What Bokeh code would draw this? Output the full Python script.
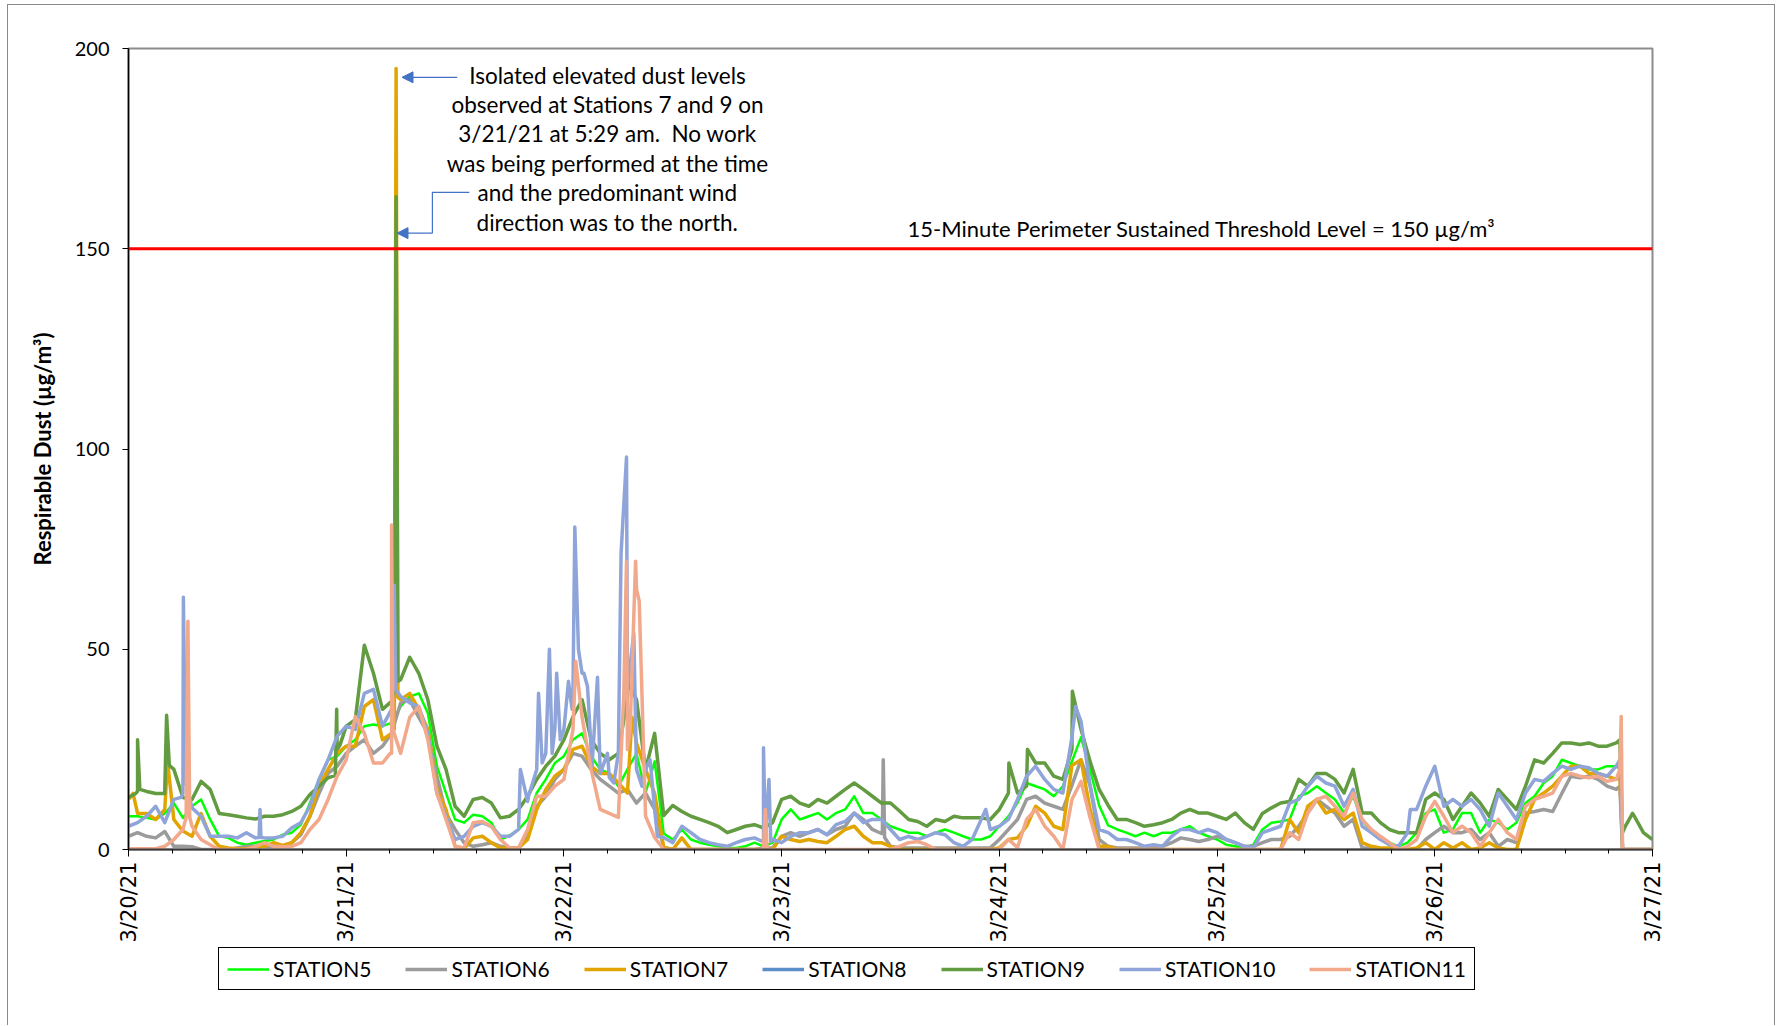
import math
from bokeh.plotting import figure
from bokeh.layouts import column
from bokeh.models import (Range1d, FixedTicker, Span, Label, Arrow, NormalHead,
                          Legend, LegendItem)
from bokeh.embed import file_html
from bokeh.resources import INLINE

# ---------------- data (hours from 3/20/21 00:00) ----------------
hours = list(range(169))
tick_hours = [0, 24, 48, 72, 96, 120, 144, 168]
date_labels = ["3/20/21", "3/21/21", "3/22/21", "3/23/21", "3/24/21", "3/25/21", "3/26/21", "3/27/21"]
minor_hours = [4.8 * k for k in range(36)]
y_ticks = [0, 50, 100, 150, 200]
threshold = 150

station5 = [8.3, 8.3, 7.9, 7.5, 9, 11.6, 7.9, 10.8, 12.5, 7.5, 3.3, 2.9,
            1.7, 1.2, 1.7, 2.1, 2.5, 3.7, 4.2, 6.2, 11.6, 17.5, 22.4, 23.3,
            25.8, 27.4, 30.8, 31.2, 30.8, 31.6, 35.7, 38.2, 39, 34, 20.8, 14.1,
            7.5, 6.7, 8.7, 8.3, 6.7, 2.5, 3.5, 5, 7.5, 14.1, 17.5, 21.6,
            23.3, 27.4, 29, 23.3, 20, 19, 15.8, 20, 24, 14.1, 22, 4,
            2.5, 5, 2.5, 1.7, 1.2, 0.8, 0.4, 0.4, 0.8, 1.7, 0.8, 1.7,
            7.5, 10, 7.5, 8.3, 9.1, 7.5, 9.1, 10, 13.3, 9.1, 9.1, 7.5,
            5.8, 5, 4.2, 4.2, 3.3, 4.2, 5, 4.2, 3.3, 2.5, 2.5, 3.3,
            5.8, 8.3, 11.6, 16.6, 15.8, 15, 13.3, 15.8, 22, 28, 20, 11,
            6, 5, 4.2, 3.3, 4.2, 3.3, 4.2, 4.2, 5, 5.8, 4.2, 3.3,
            2.5, 1.2, 0.8, 0.4, 1.2, 5, 6.7, 7, 7.5, 13.3, 14.1, 15.8,
            14.1, 12.5, 9.1, 13.3, 7.5, 4.2, 2.5, 1.7, 0.8, 1.7, 4.2, 9.1,
            10, 4.2, 5, 9.1, 9.1, 4.2, 7.5, 6.7, 5, 6.7, 11.6, 13.3,
            16.6, 18.3, 22.4, 21.6, 20.8, 20, 20, 20.8, 20.8, 0, 0, 0,
            0]
station5_extra_t = [164.4, 164.7]
station5_extra_v = [20, 0]

station6 = [3.3, 4.2, 3.3, 2.9, 4.5, 0.8, 0.8, 0.7, 0, 0, 0, 0,
            0.4, 0.8, 0.8, 0.8, 0.8, 0.8, 1.7, 3.7, 8.3, 14, 19, 20.8,
            24, 25.8, 27.4, 24, 25.8, 29, 36.6, 37.4, 33, 29, 18.3, 9,
            5, 1.7, 0.8, 1.2, 1.7, 0.8, 0.4, 0.4, 3.3, 10.8, 13.3, 17.5,
            20, 24, 23.3, 20, 17.5, 15.8, 14.1, 15, 11.6, 14.1, 10, 0.5,
            0, 0, 0, 0, 0, 0, 0, 0, 0, 0, 0.4, 0.4,
            3.3, 4.2, 3.3, 4.2, 5, 3.7, 5, 5.8, 9.1, 7.5, 5, 4,
            0.8, 0.4, 0.4, 0.4, 0.4, 0.4, 0.4, 0.4, 0.4, 0.4, 0.4, 0.4,
            2.5, 5, 7.5, 12.5, 13.3, 11.6, 10.8, 10, 16, 22.4, 16, 2.5,
            0.8, 0.4, 0.4, 0.4, 0.4, 0.8, 0.8, 1.7, 2.9, 2.5, 2, 2.5,
            3.3, 2.5, 1.7, 0.8, 0.8, 1.7, 2.5, 2.5, 3.3, 5.8, 9.1, 12.5,
            10.8, 9.1, 5.8, 7.5, 0.4, 0.4, 0, 0, 0, 0, 0, 2.5,
            4.2, 5.8, 4.2, 4.2, 5, 2.5, 4.2, 0.8, 2.5, 1.7, 9.1, 9.5,
            10, 9.5, 14, 18.3, 17.9, 18.3, 17.5, 15.8, 15, 0, 0, 0,
            0]
station6_extra_t = [83.1, 83.2, 83.35, 164.4, 164.7]
station6_extra_v = [4, 22.4, 3, 15.8, 0]

station7 = [12.5, 9, 9, 7.5, 10, 7.5, 4.6, 3.3, 9, 3.3, 0.8, 0.4,
            0.2, 0.2, 0.7, 0.8, 1.7, 1, 1.7, 4.2, 8.3, 15.8, 20, 24,
            25.8, 25.8, 35.7, 37.4, 27.4, 29, 37.4, 39, 35, 30, 15, 10,
            0.8, 0.2, 2.9, 3.3, 1.7, 0.4, 0.4, 0.4, 2.5, 10, 15, 18.3,
            20, 25, 25.8, 20.8, 19, 19, 16.6, 14.1, 26.6, 20, 14, 0.5,
            0, 2.9, 0, 0, 0, 0, 0, 0, 0, 0, 0, 0,
            3.3, 2.5, 2, 2.5, 2, 1.7, 3.3, 5, 5.8, 3.3, 1.7, 1.7,
            0.8, 0, 0, 0, 0, 0, 0, 0, 0, 0, 0, 0,
            0.4, 2.5, 2.9, 5.8, 10.8, 9.1, 5.8, 5, 21, 22.4, 10, 0.8,
            0.8, 0, 0, 0, 0, 0, 0, 0, 0, 0, 0, 0,
            0, 0, 0, 0, 0, 0, 0, 0, 7.5, 4.2, 10.8, 12.5,
            9.1, 10, 7.5, 9.1, 1.7, 0.8, 0.4, 0.4, 0, 0, 0.4, 1.7,
            0, 1.7, 0.4, 1.7, 0, 0.4, 1.7, 0.4, 0, 0, 7.5, 12.5,
            14.1, 15.8, 18.3, 20.8, 20.8, 19, 19, 18.3, 17.5, 0, 0, 0,
            0]
station7_extra_t = [0.5, 4.3, 29.3, 29.5, 29.7, 55.5, 164.4, 164.7]
station7_extra_v = [14, 22, 30, 195, 38, 33, 18.3, 0]

# STATION8 shows in the legend only; no line is visible in the chart
station8 = []
station8_t = []

station9 = [13, 14.5, 14.5, 14, 14, 20, 13, 12.5, 17, 15, 9, 8.7,
            8.3, 7.9, 7.6, 8.3, 8.3, 8.7, 9.5, 10.8, 13.7, 15.8, 17.9, 25,
            30.8, 32.4, 51, 44, 35, 37, 42.4, 48, 44, 37.4, 25.8, 20,
            10.8, 8.3, 12.5, 13, 11.6, 7.9, 8.3, 10, 13.3, 17.5, 20.8, 23.3,
            27.4, 33.2, 37.4, 27.4, 24, 22.4, 24, 38, 37.4, 20, 29, 8.5,
            11, 9.5, 8.3, 7.5, 6.7, 5.8, 4.2, 5, 5.8, 6.2, 5.4, 6.7,
            12.5, 13.3, 11.6, 10.8, 12.5, 11.6, 13.3, 15, 16.6, 15, 13.3, 11.6,
            11.6, 9.6, 7.5, 7, 5.8, 7.5, 7, 8.3, 7.9, 7.9, 7.9, 7.5,
            10, 14.1, 14.1, 15.8, 21.6, 21.6, 18.3, 17.5, 25, 30, 22, 15,
            11, 7.5, 7.5, 6.7, 5.8, 6.2, 6.7, 7.5, 9.1, 10, 9.1, 9.1,
            8.3, 7.5, 9.1, 6.7, 5, 9, 10.4, 11.6, 12, 17.5, 15.8, 19,
            19, 17.5, 14.1, 20, 9.1, 9.1, 6.7, 5, 4.2, 4.2, 4.2, 12.5,
            14.1, 12.5, 7.5, 10.8, 14.1, 11.6, 8.3, 15, 12.5, 10, 15.8, 22.4,
            21.6, 24, 26.6, 26.6, 26.2, 26.6, 25.8, 25.8, 26.6, 5.8, 8.3, 4.2,
            2.5]
station9_extra_t = [0.8, 1.0, 1.25, 4.0, 4.2, 4.5, 22.8, 22.95, 23.3, 29.3, 29.5, 29.7,
                    55.1, 97.05, 99.1, 104.05, 164.4, 164.7, 165.8]
station9_extra_v = [14, 27.4, 15, 15, 33.5, 21, 18.5, 35, 26, 40, 163, 42,
                    42, 21.6, 25, 39.5, 27.4, 4.2, 9]

station10 = [5.8, 6.7, 8.3, 10.8, 6.7, 12.5, 14, 10.4, 8.3, 3.3, 3.3, 3.3,
             2.9, 4.2, 2.9, 2.9, 2.9, 3.3, 5.4, 6.7, 10.8, 17.5, 22.4, 28.3,
             30.8, 30, 39, 40, 30.8, 35, 38.2, 36.6, 35.7, 29, 14, 8.3,
             2.5, 3.3, 5.8, 6.7, 5.8, 3.3, 3.3, 5, 12, 20, 24, 30,
             30, 40, 44, 25, 19, 18, 24, 40, 20, 20, 10, 3,
             1.7, 5.8, 4.2, 2.5, 1.7, 1.2, 0.8, 1.7, 2.5, 2.9, 1.7, 2.5,
             1.7, 3.3, 4.2, 4.2, 5, 3.7, 6.2, 7, 9.1, 6.7, 7.5, 7.5,
             5, 2.5, 3.3, 2.5, 3.3, 4.2, 3.7, 1.7, 0.8, 2.5, 7.5, 5,
             5.8, 7.5, 12.5, 18.3, 20.8, 17.5, 15, 14.1, 28, 32, 16, 5,
             4.2, 2.5, 2.5, 1.7, 0.8, 1.2, 0.8, 3.3, 5, 5, 4.2, 5,
             4.2, 2.5, 1.7, 0.8, 0.4, 4.2, 5, 5.8, 11.6, 12.5, 15.8, 18.3,
             16.6, 15.8, 10.8, 15, 5.8, 4.2, 2.5, 1.2, 0.8, 4.2, 10, 15.8,
             20.8, 10.8, 12.5, 10.8, 12.5, 10, 5.8, 14.1, 10.8, 7.5, 14.1, 17.5,
             17, 19, 20.8, 20, 20.8, 20.4, 19, 18.3, 20.8, 0, 0, 0,
             0]
station10_extra_t = [5.8, 6.05, 6.3, 14.4, 14.5, 14.6, 29.1, 29.3, 29.45,
                     43.2, 44.1, 45.2, 45.6, 46.4, 46.7, 47.2, 47.6, 48.5, 48.9,
                     49.2, 49.6, 50.2, 50.6, 51.1, 51.7, 52.0, 52.8, 53.5, 54.3,
                     54.9, 55.7, 56.6, 57.5, 58.3, 69.9, 70.0, 70.2, 70.6, 70.8,
                     94.5, 104.4, 141.3, 164.4, 164.7]
station10_extra_v = [13, 63, 17, 3, 10, 3, 40, 66, 40,
                     20, 13.3, 39, 21.6, 50, 24, 44, 27.4, 42, 35,
                     80.5, 50, 44, 40.7, 20.8, 43, 19, 24, 16.6, 74,
                     98, 54, 15.8, 22.4, 3.3, 2, 25.4, 3, 17.5, 2,
                     10, 35.7, 10, 22.4, 0]

station11 = [0.2, 0.2, 0.2, 0.2, 0.8, 2.5, 5, 5.8, 2.5, 1.2, 0, 0,
             0, 0, 0.8, 1.7, 0.8, 0.7, 0.8, 1.7, 5, 7.5, 12.5, 18.3,
             22.4, 33.2, 29, 21.6, 21.6, 24, 24, 33, 35.7, 27.4, 14, 7.5,
             0.8, 0.4, 6.7, 7, 5.8, 2.5, 0.4, 0.4, 5, 13.3, 13.3, 15.8,
             17.5, 30, 33, 20, 10, 9, 8, 25, 65, 8.3, 3, 0,
             0, 0, 0, 0, 0, 0, 0, 0, 0, 0, 0, 0,
             0, 0, 0, 0, 0, 0, 0, 0, 0, 0, 0, 0,
             0, 0.8, 1.7, 2, 1.2, 0, 0, 0, 0, 0, 0, 0,
             0, 2.5, 0.5, 7.5, 10, 5.8, 3.3, 0, 12.5, 17, 8, 0,
             0, 0, 0, 0, 0, 0, 0, 0, 0, 0, 0, 0,
             0, 0, 0, 0, 0, 0, 0, 0, 4.2, 2.5, 9.1, 12.5,
             13.3, 10.8, 8.3, 14.1, 7.5, 5, 3.3, 1.7, 0, 0.8, 2.5, 8.3,
             12, 8.3, 4.2, 5.8, 4.2, 0.8, 4.2, 7.5, 4.2, 2.5, 10.8, 12.5,
             13.3, 14.1, 18.3, 19, 18.3, 17.9, 18.3, 17, 17.5, 0, 0, 0,
             0]
station11_extra_t = [6.35, 6.55, 6.75, 28.85, 29.0, 29.15, 49.3, 54.6, 54.9, 55.3,
                     55.9, 56.3, 70.0, 70.2, 70.4, 164.4, 164.55, 164.7]
station11_extra_v = [8, 57, 8, 24, 81, 30, 47, 39, 72, 30,
                     72, 62, 0, 10, 0, 20, 33.2, 0]

names = ["STATION5", "STATION6", "STATION7", "STATION8", "STATION9", "STATION10", "STATION11"]
colors = ["#00FF00", "#9B9B9B", "#E1A400", "#5B8EC8", "#629B40", "#8FA5D9", "#F2A88B"]
widths = [2.5, 3.5, 3.5, 3.5, 3.5, 3.5, 3.5]


def merge(base, et, ev):
    pts = list(zip(hours, base)) + list(zip(et, ev))
    pts.sort(key=lambda q: q[0])
    return [q[0] for q in pts], [q[1] for q in pts]


xy = [merge(station5, station5_extra_t, station5_extra_v),
      merge(station6, station6_extra_t, station6_extra_v),
      merge(station7, station7_extra_t, station7_extra_v),
      (station8_t, station8),
      merge(station9, station9_extra_t, station9_extra_v),
      merge(station10, station10_extra_t, station10_extra_v),
      merge(station11, station11_extra_t, station11_extra_v)]

W = 1766
# ---------------- main figure ----------------
p = figure(width=W, height=940, x_range=Range1d(0, 168), y_range=Range1d(0, 200),
           output_backend="svg", toolbar_location=None,
           min_border_left=120, min_border_right=122, min_border_top=43, min_border_bottom=95)
p.xgrid.visible = False
p.ygrid.visible = False
p.outline_line_color = "#8c8c8c"
p.outline_line_width = 2
p.background_fill_color = "white"

for (xs, ys), col, w in zip(xy, colors, widths):
    p.line(xs, ys, line_color=col, line_width=w, line_join="round")

# axes
p.yaxis.ticker = FixedTicker(ticks=y_ticks)
p.yaxis.minor_tick_line_color = None
p.yaxis.major_tick_out = 6
p.yaxis.major_tick_in = 0
p.yaxis.axis_line_color = "black"
p.yaxis.axis_line_width = 1.5
p.yaxis.major_tick_line_color = "black"
p.yaxis.major_label_text_font = "Lato"
p.yaxis.major_label_text_font_size = "20px"
p.yaxis.major_label_text_color = "black"
p.yaxis.major_label_standoff = 13
p.yaxis.axis_label = "Respirable Dust (µg/m³)"
p.yaxis.axis_label_text_font = "Lato"
p.yaxis.axis_label_text_font_style = "bold"
p.yaxis.axis_label_text_font_size = "22px"
p.yaxis.axis_label_text_color = "black"
p.yaxis.axis_label_standoff = 16

p.xaxis.ticker = FixedTicker(ticks=tick_hours, minor_ticks=minor_hours)
p.xaxis.major_label_overrides = {h: lab for h, lab in zip(tick_hours, date_labels)}
p.xaxis.major_label_orientation = math.pi / 2
p.xaxis.major_tick_out = 7
p.xaxis.major_tick_in = 0
p.xaxis.minor_tick_out = 4
p.xaxis.minor_tick_in = 0
p.xaxis.axis_line_color = "#3a3a3a"
p.xaxis.axis_line_width = 2
p.xaxis.major_tick_line_color = "black"
p.xaxis.minor_tick_line_color = "black"
p.xaxis.major_label_text_font = "DejaVu Sans"
p.xaxis.major_label_text_font_size = "21px"
p.xaxis.major_label_text_color = "black"
p.xaxis.major_label_standoff = 5

# threshold
p.add_layout(Span(location=threshold, dimension="width", line_color="#FF0000", line_width=3))
p.add_layout(Label(x=118.3, y=155.1, text="15-Minute Perimeter Sustained Threshold Level = 150 µg/m³",
                   text_align="center", text_baseline="middle", text_font="Lato",
                   text_font_size="22px", text_color="black"))

# annotation
note_lines = ["Isolated elevated dust levels",
              "observed at Stations 7 and 9 on",
              "3/21/21 at 5:29 am.\u00a0 No work",
              "was being performed at the time",
              "and the predominant wind",
              "direction was to the north."]
note_y = [193.2, 186.0, 178.7, 171.4, 164.1, 156.6]
for t, yy in zip(note_lines, note_y):
    p.add_layout(Label(x=52.8, y=yy, text=t, text_align="center", text_baseline="middle",
                       text_font="Lato", text_font_size="22.5px", text_color="black"))

arrow_col = "#4472C4"
p.add_layout(Arrow(end=NormalHead(size=11, fill_color=arrow_col, line_color=arrow_col),
                   x_start=36.25, y_start=192.8, x_end=30.15, y_end=192.8,
                   line_color=arrow_col, line_width=1.2))
p.line([37.57, 33.5, 33.5], [164.1, 164.1, 153.9], line_color=arrow_col, line_width=1.2)
p.add_layout(Arrow(end=NormalHead(size=11, fill_color=arrow_col, line_color=arrow_col),
                   x_start=33.5, y_start=153.9, x_end=29.6, y_end=153.9,
                   line_color=arrow_col, line_width=1.2))

# ---------------- legend strip ----------------
q = figure(width=W, height=80, x_range=Range1d(0, 1), y_range=Range1d(0, 1),
           output_backend="svg", toolbar_location=None, x_axis_type=None, y_axis_type=None,
           min_border=0)
q.xgrid.visible = False
q.ygrid.visible = False
q.outline_line_color = None
q.background_fill_color = "white"
q.border_fill_color = "white"
# legend-key renderers: a single point placed outside the strip's visible range
legend_renderers = [q.line([-5, -5], [-5, -5], line_color=col, line_width=w)
                    for col, w in zip(colors, widths)]
items = [LegendItem(label=nm, renderers=[r]) for nm, r in zip(names, legend_renderers)]
legend = Legend(items=items, orientation="horizontal", location=(90, 35),
                label_text_font="Lato", label_text_font_size="21px", label_text_color="black",
                glyph_width=42, glyph_height=20, label_standoff=4, spacing=34, padding=8,
                border_line_color="black", border_line_alpha=1.0, border_line_width=1.3,
                margin=0)
q.add_layout(legend)

layout = column(p, q, spacing=0)
layout.styles = {"margin-left": "7px", "margin-top": "4px",
                 "border-left": "1px solid #8a8a8a", "border-top": "1px solid #8a8a8a",
                 "border-right": "1px solid #8a8a8a"}

open("out.html", "w").write(file_html(layout, INLINE))
